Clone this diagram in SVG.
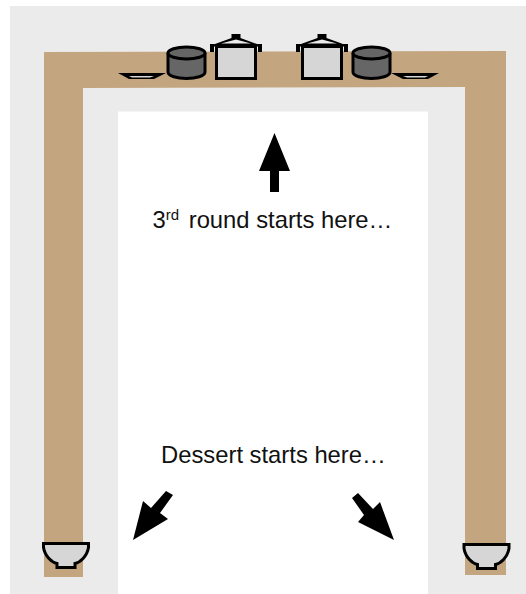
<svg xmlns="http://www.w3.org/2000/svg" width="526" height="594" viewBox="0 0 526 594">
<style>
text{font-family:"Liberation Sans",Arial,sans-serif;font-size:23.800px;fill:#111}
.o{stroke:#000;stroke-width:3;stroke-linejoin:miter}
.l{fill:#d6d6d6}.d{fill:#666}
</style>
<defs>
<g id="bowl"><path class="o l" d="M-22.500 0H22.500V4C21 13 14 19 9 20V24H-9V20C-14 19 -21 13 -22.500 4Z"/></g>
<g id="pot"><path class="o d" d="M-18.500 0V19C-18.500 27.500 18.500 27.500 18.500 19V0"/><ellipse class="o d" cx="0" cy="0" rx="18.500" ry="6"/></g>
<g id="stock"><rect class="o l" x="-19.500" y="-15.500" width="39" height="32"/><path d="M-26 -10V-18H-21L-4.500 -24V-28H4.500V-24L21 -18H26V-10H22V-15.500H-22V-10Z M-15 -18.500L0 -22.500L15 -18.500Z" fill="#000" fill-rule="evenodd"/></g>
<g id="plate"><path d="M-24 0H24L12 6H-13Z" fill="#000"/><path d="M-13 3H12L8 4.500H-10Z" fill="#d6d6d6"/></g>
</defs>
<rect id="floor" x="10" y="6" width="516" height="588" fill="#ebebeb"/>
<rect id="room" x="118" y="111.500" width="310" height="482.500" fill="#fff"/>
<g id="table" fill="#c3a57f">
<path d="M44 52L506 51V575H465V87L83 88V577H44Z"/>
</g>
<g id="plate-left"><use href="#plate" x="142" y="73"/></g>
<g id="pot-left"><use href="#pot" x="186.500" y="53"/></g>
<g id="stock-left"><use href="#stock" x="236" y="62"/></g>
<g id="stock-right"><use href="#stock" x="322" y="62"/></g>
<g id="pot-right"><use href="#pot" x="371.500" y="53"/></g>
<g id="plate-right"><use transform="translate(415 73) scale(-1 1)" href="#plate"/></g>
<g id="bowl-left"><use href="#bowl" x="66" y="543.500"/></g>
<g id="bowl-right"><use href="#bowl" x="486.500" y="544.500"/></g>
<g id="connectors" fill="#000">
<path d="M274.500 133L290 171H279V192H270V171H259Z"/>
<path d="M133 540L143 501L151 508L166 491L173 495L160 513L168 519Z"/>
<path d="M394 540L380 502L373 509L358 493L352 498L364 515L358 522Z"/>
</g>
<g id="labels">
<text x="152.500" y="228">3<tspan font-size="15" dy="-8">rd</tspan><tspan dy="8" dx="3"> round starts here…</tspan></text>
<text x="161" y="463">Dessert starts here…</text>
</g>
</svg>
